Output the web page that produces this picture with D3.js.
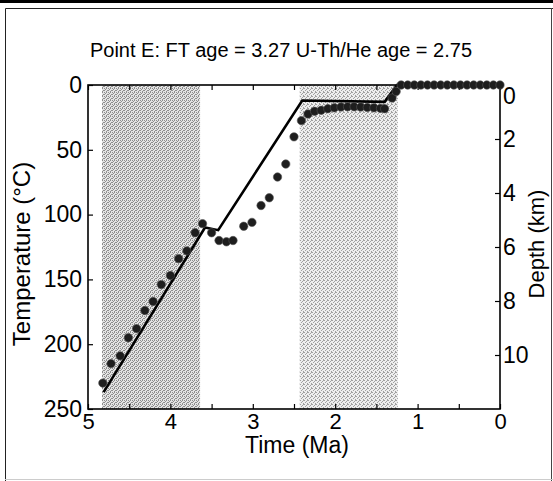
<!DOCTYPE html>
<html>
<head>
<meta charset="utf-8">
<script src="https://cdn.jsdelivr.net/npm/d3@7"></script>
<style>
  body { margin: 0; background: #fff; }
  svg { display: block; }
  text { font-family: "Liberation Sans", Arial, sans-serif; fill: #000; }
</style>
</head>
<body>
<svg id="chart" width="553" height="481"></svg>
<script>
// --- data (time in Ma, temperature in °C) ---
const titleText = "Point E: FT age = 3.27 U-Th/He age = 2.75";

// shaded time windows [start, end]
const bands = [[4.83, 3.64], [2.43, 1.24]];

// modelled path (solid line)
const pathTime = [4.81, 3.58, 3.42, 2.40, 1.40, 1.25, 0];
const pathTemp = [237, 110, 112, 12, 13, 0, 0];

// simulated history (dots)
const dotTime = [4.82, 4.72, 4.61, 4.51, 4.41, 4.31, 4.21, 4.11, 4.00, 3.90, 3.80, 3.70,
    3.61, 3.50, 3.41, 3.32, 3.24, 3.11, 3.01, 2.90, 2.80, 2.70, 2.60, 2.50, 2.41,
    2.33, 2.25, 2.17, 2.09, 2.01, 1.93, 1.85, 1.77, 1.69, 1.61, 1.53, 1.45, 1.40,
    1.31, 1.26, 1.20, 1.12, 1.04, 0.96, 0.88, 0.80, 0.72, 0.64, 0.56, 0.48, 0.40,
    0.32, 0.24, 0.16, 0.08, 0];
const dotTemp = [230, 215, 209, 195, 188, 174, 167, 154, 147, 134, 128, 114,
    107, 114, 120, 121, 120, 109, 106, 93, 87, 71, 61, 40, 27.5,
    22.4, 20.3, 19.5, 18.3, 17.6, 17.0, 16.8, 16.8, 17.0, 17.3, 17.6, 18.0, 18.3,
    10, 5, 0, 0, 0, 0, 0, 0, 0, 0, 0, 0, 0,
    0, 0, 0, 0, 0];

// axis ticks
const timeTicks = [5, 4.5, 4, 3.5, 3, 2.5, 2, 1.5, 1, 0.5, 0];
const tempTicks = [0, 50, 100, 150, 200, 250];
const depthTicks = [0, 2, 4, 6, 8, 10];

const svg = d3.select("#chart");

// plot box
const box = { left: 88, right: 500, top: 85, bottom: 409 };

const x = d3.scaleLinear().domain([5, 0]).range([box.left, box.right]);
const y = d3.scaleLinear().domain([0, 250]).range([box.top, box.bottom]);
const yd = d3.scaleLinear().domain([0, 12]).range([box.top, box.bottom]);

// frame around figure
svg.append("rect").attr("x", 0).attr("y", 0).attr("width", 553).attr("height", 3).attr("fill", "#000");
svg.append("path")
    .attr("d", "M5.5,481 V8.5 H553")
    .attr("fill", "none").attr("stroke", "#222").attr("stroke-width", 1);
svg.append("line").attr("x1", 551.5).attr("x2", 551.5).attr("y1", 8).attr("y2", 481)
    .attr("stroke", "#444").attr("stroke-width", 1);
svg.append("line").attr("x1", 5).attr("x2", 553).attr("y1", 479.5).attr("y2", 479.5)
    .attr("stroke", "#ccc").attr("stroke-width", 1);

// stipple patterns for the shaded windows
const defs = svg.append("defs");
function stipple(id, bg, dark, cells) {
    const p = defs.append("pattern").attr("id", id)
        .attr("width", 4).attr("height", 4).attr("patternUnits", "userSpaceOnUse");
    p.append("rect").attr("width", 4).attr("height", 4).attr("fill", bg);
    cells.forEach(c => p.append("rect").attr("x", c[0]).attr("y", c[1])
        .attr("width", 1).attr("height", 1).attr("fill", dark));
}
stipple("st1", "#e4e4e4", "#8e8e8e", [[0, 0], [2, 0], [1, 1], [3, 2], [0, 2], [2, 3]]);
stipple("st2", "#eeeeee", "#a0a0a0", [[0, 0], [2, 1], [1, 2], [3, 3], [3, 0]]);

svg.append("g").selectAll("rect")
    .data(bands)
    .join("rect")
    .attr("x", d => x(d[0]))
    .attr("width", d => x(d[1]) - x(d[0]))
    .attr("y", box.top)
    .attr("height", box.bottom - box.top)
    .attr("fill", (d, i) => i === 0 ? "url(#st1)" : "url(#st2)");

// axes (ticks pointing inward)
const fmtTime = d => Number.isInteger(d) ? d : "";

svg.append("g")
    .attr("transform", `translate(0,${box.bottom})`)
    .call(d3.axisBottom(x).tickValues(timeTicks).tickFormat(fmtTime).tickSizeInner(-5).tickSizeOuter(0).tickPadding(4))
    .call(g => g.select(".domain").remove())
    .call(g => g.selectAll("text").attr("font-size", 22).attr("font-family", null));

svg.append("g")
    .attr("transform", `translate(0,${box.top})`)
    .call(d3.axisTop(x).tickValues(timeTicks).tickFormat("").tickSizeInner(-5).tickSizeOuter(0))
    .call(g => g.select(".domain").remove());

svg.append("g")
    .attr("transform", `translate(${box.left},0)`)
    .call(d3.axisLeft(y).tickValues(tempTicks).tickSizeInner(-5).tickSizeOuter(0).tickPadding(6))
    .call(g => g.select(".domain").remove())
    .call(g => g.selectAll("text").attr("font-size", 23).attr("font-family", null));

svg.append("g")
    .attr("transform", `translate(${box.right},0)`)
    .call(d3.axisRight(yd).tickValues(depthTicks).tickSizeInner(-5).tickSizeOuter(0).tickPadding(3))
    .call(g => g.select(".domain").remove())
    .call(g => g.selectAll("text").attr("font-size", 23).attr("font-family", null)
        .attr("dy", d => d === 0 ? "0.8em" : "0.32em"));

svg.selectAll(".tick line").attr("stroke", "#000").attr("stroke-width", 1.2);

// box
svg.append("rect")
    .attr("x", box.left).attr("y", box.top)
    .attr("width", box.right - box.left).attr("height", box.bottom - box.top)
    .attr("fill", "none").attr("stroke", "#000").attr("stroke-width", 1.6);

// model path
const line = d3.line()
    .x((d, i) => x(pathTime[i]))
    .y(d => y(d));

svg.append("path")
    .datum(pathTemp)
    .attr("fill", "none")
    .attr("stroke", "#000")
    .attr("stroke-width", 2.6)
    .attr("stroke-linejoin", "miter")
    .attr("d", line);

// dots
svg.append("g").selectAll("circle")
    .data(dotTemp)
    .join("circle")
    .attr("cx", (d, i) => x(dotTime[i]))
    .attr("cy", d => y(d))
    .attr("r", 4.2)
    .attr("fill", "#1e1e1e")
    .attr("stroke", "#555")
    .attr("stroke-width", 0.6);

// titles
svg.append("text")
    .attr("x", 281).attr("y", 57)
    .attr("text-anchor", "middle")
    .attr("font-size", 20)
    .text(titleText);

svg.append("text")
    .attr("x", 297).attr("y", 453)
    .attr("text-anchor", "middle")
    .attr("font-size", 23)
    .text("Time (Ma)");

svg.append("text")
    .attr("transform", "translate(30,254) rotate(-90)")
    .attr("text-anchor", "middle")
    .attr("font-size", 24)
    .attr("fill", "#333")
    .text("Temperature (°C)");

svg.append("text")
    .attr("transform", "translate(544,244) rotate(-90)")
    .attr("text-anchor", "middle")
    .attr("font-size", 22)
    .text("Depth (km)");
</script>
</body>
</html>
